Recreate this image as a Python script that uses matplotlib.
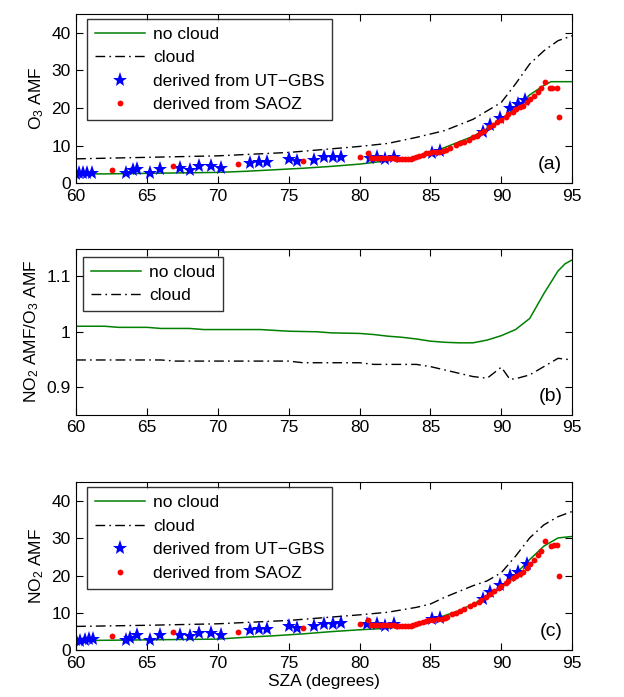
import matplotlib
matplotlib.use("Agg")
import matplotlib.pyplot as plt

plt.rcParams['font.family'] = ['Liberation Sans', 'DejaVu Sans']
plt.rcParams['mathtext.fontset'] = 'custom'
plt.rcParams['mathtext.rm'] = 'Liberation Sans'
plt.rcParams['mathtext.it'] = 'Liberation Sans'

# ---- Panel (a): O3 AMF ----
sza_model_a = [60, 62, 64, 66, 68, 70, 72, 74, 76, 78, 80, 82, 84, 85, 86, 87, 88, 89, 90, 91, 92, 93, 93.5, 94, 95]
o3_nocloud = [2.5, 2.5, 2.6, 2.7, 2.8, 2.9, 3.2, 3.6, 4.0, 4.5, 5.1, 6.0, 7.0, 8.0, 9.5, 11.0, 12.5, 14.5, 17.0, 20.0, 23.5, 26.0, 27.0, 27.0, 27.0]
sza_cloud_a = [60, 65, 70, 75, 80, 82, 84, 86, 88, 90, 91, 92, 93, 94, 95]
o3_cloud = [6.5, 6.9, 7.3, 8.2, 9.8, 10.6, 12.2, 14.0, 17.0, 21.5, 26.4, 31.7, 35.2, 37.9, 39.2]

gbs_sza_a = [60.0, 60.2, 60.5, 60.8, 61.1, 63.5, 64.0, 64.3, 65.2, 65.9, 67.3, 68.0, 68.7, 69.5, 70.2,
             72.3, 72.9, 73.5, 75.0, 75.6, 76.8, 77.5, 78.1, 78.7, 80.7, 81.2, 81.8, 82.4, 85.1, 85.7,
             88.7, 89.2, 89.9, 90.6, 91.2, 91.7]
gbs_o3 = [2.5, 2.7, 2.7, 2.8, 2.8, 2.7, 3.5, 3.8, 2.7, 3.8, 4.1, 3.5, 4.6, 4.6, 4.2,
          5.3, 5.7, 5.7, 6.4, 6.0, 6.2, 6.9, 6.9, 7.1, 6.7, 6.9, 6.5, 6.9, 8.1, 8.5,
          13.7, 15.5, 17.3, 19.9, 21.1, 22.1]

saoz_sza_a = [62.5, 66.8, 71.4, 76.0, 80.0, 80.6, 80.8, 81.0, 81.2, 81.4, 81.6, 81.8, 82.0, 82.2, 82.4,
              82.6, 82.8, 83.0, 83.2, 83.4, 83.6, 83.8, 84.0, 84.2, 84.5, 84.7, 84.9, 85.1, 85.4, 85.6,
              85.9, 86.1, 86.4, 86.8, 87.1, 87.4, 87.7, 88.0, 88.3, 88.5, 88.8, 89.1, 89.4, 89.7, 90.0,
              90.3, 90.5, 90.8, 91.0, 91.3, 91.5, 91.8, 92.0, 92.3, 92.6, 92.8, 93.1, 93.4, 93.6, 93.9, 94.1]
saoz_o3 = [3.6, 4.7, 5.0, 5.9, 6.9, 8.1, 6.7, 6.8, 6.7, 6.8, 6.7, 6.7, 6.6, 6.7, 6.6,
           6.5, 6.5, 6.4, 6.4, 6.4, 6.5, 6.6, 6.9, 7.3, 7.6, 8.0, 8.1, 8.2, 8.2, 8.2,
           8.5, 8.8, 9.4, 10.3, 10.6, 10.9, 11.5, 12.2, 12.7, 13.3, 14.0, 14.9, 15.6, 16.2, 16.8,
           17.6, 18.4, 19.0, 19.7, 20.2, 20.6, 21.5, 22.3, 23.3, 24.3, 25.3, 26.8, 25.3, 25.3, 25.3, 17.7]

# ---- Panel (b): NO2 AMF / O3 AMF ----
sza_b = [60, 62, 63, 65, 66, 68, 69, 73, 75, 77, 78, 80, 81, 82, 83, 84, 85, 86, 87, 88, 89, 90, 91, 92, 93, 94, 94.5, 95]
ratio_nocloud = [1.010, 1.010, 1.008, 1.008, 1.006, 1.006, 1.004, 1.004, 1.001, 1.000, 0.998, 0.997, 0.995, 0.992, 0.990,
                 0.987, 0.983, 0.981, 0.980, 0.980, 0.985, 0.993, 1.004, 1.024, 1.069, 1.110, 1.123, 1.130]
sza_b_cloud = [60, 66, 67, 75, 76, 80, 81, 84, 85, 86, 87, 88, 89, 90, 90.6, 91, 92, 93, 94, 95]
ratio_cloud = [0.949, 0.949, 0.947, 0.947, 0.944, 0.944, 0.941, 0.941, 0.937, 0.931, 0.925, 0.919, 0.916, 0.936, 0.914,
               0.915, 0.922, 0.937, 0.952, 0.949]

# ---- Panel (c): NO2 AMF ----
sza_model_c = [60, 65, 70, 72, 74, 76, 78, 80, 82, 84, 85, 86, 87, 88, 89, 90, 91, 92, 93, 94, 95]
no2_nocloud = [2.6, 2.8, 3.0, 3.5, 3.9, 4.4, 5.0, 5.5, 5.9, 7.1, 8.0, 9.3, 10.6, 12.4, 14.3, 16.8, 20.4, 24.3, 27.9, 30.1, 30.5]
sza_cloud_c = [60, 65, 70, 75, 80, 82, 84, 85, 86, 88, 89, 90, 91, 92, 93, 94, 95]
no2_cloud = [6.4, 6.7, 7.1, 8.0, 9.5, 10.2, 11.5, 12.4, 14.2, 17.3, 18.6, 20.8, 25.2, 30.1, 33.6, 35.8, 37.2]

gbs_sza_c = [60.0, 60.3, 60.6, 60.9, 61.2, 63.5, 63.8, 64.3, 65.2, 65.9, 67.3, 68.0, 68.7, 69.5, 70.2,
             72.3, 72.9, 73.5, 75.0, 75.6, 76.8, 77.5, 78.1, 78.7, 80.5, 81.2, 81.8, 82.4, 85.1, 85.7,
             88.7, 89.2, 89.9, 90.6, 91.2, 91.8]
gbs_no2 = [2.7, 2.6, 2.8, 3.0, 3.0, 2.8, 3.4, 4.0, 2.8, 4.0, 4.2, 3.7, 4.7, 4.7, 4.2,
           5.5, 5.7, 5.7, 6.4, 6.0, 6.4, 7.1, 7.1, 7.3, 7.1, 7.1, 6.6, 7.1, 8.4, 8.7,
           13.7, 15.5, 17.5, 19.9, 21.1, 23.2]

saoz_sza_c = [62.5, 66.8, 71.4, 76.0, 80.0, 80.6, 80.8, 81.0, 81.2, 81.4, 81.6, 81.8, 82.0, 82.2, 82.4,
              82.6, 82.8, 83.0, 83.2, 83.4, 83.6, 83.8, 84.0, 84.2, 84.5, 84.7, 84.9, 85.2, 85.5, 85.8,
              86.0, 86.2, 86.5, 86.8, 87.1, 87.4, 87.8, 88.1, 88.4, 88.6, 88.9, 89.2, 89.5, 89.8, 90.0,
              90.3, 90.5, 90.8, 91.0, 91.3, 91.5, 91.8, 92.0, 92.3, 92.6, 92.8, 93.1, 93.5, 93.7, 93.9, 94.1]
saoz_no2 = [3.8, 4.8, 5.0, 6.0, 7.0, 8.2, 6.8, 6.9, 6.8, 6.9, 6.8, 6.8, 6.7, 6.8, 6.7,
            6.6, 6.6, 6.5, 6.5, 6.5, 6.6, 6.7, 7.0, 7.3, 7.6, 7.9, 8.1, 8.2, 8.3, 8.4,
            8.7, 9.0, 9.6, 10.1, 10.6, 11.1, 11.8, 12.4, 13.0, 13.5, 14.3, 15.0, 15.9, 16.7, 17.3,
            18.0, 18.6, 19.3, 19.9, 20.5, 21.0, 22.1, 23.0, 24.3, 25.5, 26.7, 29.2, 27.9, 28.1, 28.3, 19.9]

xticks = [60, 65, 70, 75, 80, 85, 90, 95]
amf_yticks = [0, 10, 20, 30, 40]
ratio_yticks = [0.9, 1.0, 1.1]
ratio_yticklabels = ['0.9', '1', '1.1']

GREEN = '#008000'
FS = 12.5
LFS = 12.5

fig = plt.figure(figsize=(6.24, 6.97), dpi=100)
left, width = 0.122, 0.795
ax_a = fig.add_axes([left, 0.737, width, 0.243])
ax_b = fig.add_axes([left, 0.405, width, 0.238])
ax_c = fig.add_axes([left, 0.067, width, 0.241])

def style(ax):
    ax.set_xlim(60, 95)
    ax.set_xticks(xticks)
    ax.tick_params(direction='in', top=True, right=True, length=5, width=0.8, labelsize=FS, pad=4)
    for s in ax.spines.values():
        s.set_linewidth(0.8)

dash = (7, 3, 1.2, 3)

def add_legend(ax, anchor):
    leg = ax.legend(loc='upper left', bbox_to_anchor=anchor, fontsize=LFS, frameon=True,
                    fancybox=False, edgecolor='black', handlelength=2.9, labelspacing=0.48,
                    borderpad=0.45, handletextpad=0.45, borderaxespad=0)
    leg.get_frame().set_linewidth(1.0)
    return leg

def amf_panel(ax, sm, nc, sc, cl, gs, gv, ss, sv, label, ylabel):
    ax.plot(sm, nc, color=GREEN, lw=1.1, label='no cloud')
    ax.plot(sc, cl, color='black', lw=1.0, dashes=dash, label='cloud')
    ax.plot(gs, gv, linestyle='none', marker='*', color='blue', markersize=11,
            markeredgewidth=0, label='derived from UT\u2212GBS')
    ax.plot(ss, sv, linestyle='none', marker='o', color='red', markersize=4.2,
            markeredgewidth=0, label='derived from SAOZ')
    ax.set_ylim(0, 45)
    ax.set_yticks(amf_yticks)
    style(ax)
    ax.set_ylabel(ylabel, fontsize=FS, labelpad=4)
    ax.text(0.98, 0.06, label, transform=ax.transAxes, ha='right', va='bottom', fontsize=14)
    add_legend(ax, (0.022, 0.97))

amf_panel(ax_a, sza_model_a, o3_nocloud, sza_cloud_a, o3_cloud, gbs_sza_a, gbs_o3,
          saoz_sza_a, saoz_o3, '(a)', 'O$_3$ AMF')

ax_b.plot(sza_b, ratio_nocloud, color=GREEN, lw=1.1, label='no cloud')
ax_b.plot(sza_b_cloud, ratio_cloud, color='black', lw=1.0, dashes=dash, label='cloud')
ax_b.set_ylim(0.85, 1.15)
ax_b.set_yticks(ratio_yticks)
ax_b.set_yticklabels(ratio_yticklabels)
style(ax_b)
ax_b.set_ylabel('NO$_2$ AMF/O$_3$ AMF', fontsize=FS, labelpad=4)
ax_b.text(0.98, 0.06, '(b)', transform=ax_b.transAxes, ha='right', va='bottom', fontsize=14)
add_legend(ax_b, (0.014, 0.952))

amf_panel(ax_c, sza_model_c, no2_nocloud, sza_cloud_c, no2_cloud, gbs_sza_c, gbs_no2,
          saoz_sza_c, saoz_no2, '(c)', 'NO$_2$ AMF')
ax_c.set_xlabel('SZA (degrees)', fontsize=FS, labelpad=2)

fig.savefig('out.png', dpi=100)
